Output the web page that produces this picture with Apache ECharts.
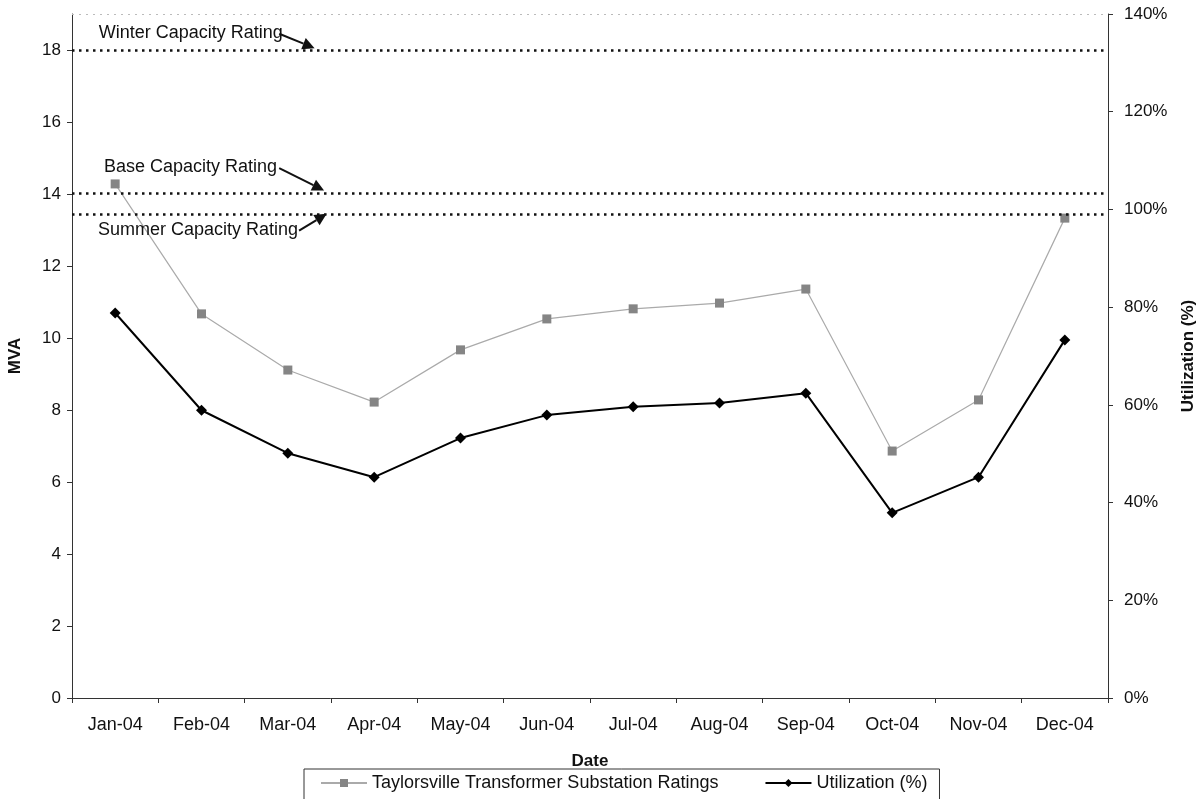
<!DOCTYPE html>
<html>
<head>
<meta charset="utf-8">
<script src="https://cdn.jsdelivr.net/npm/echarts@6/dist/echarts.min.js"></script>
<style>
html,body{margin:0;padding:0;background:#fff;}
#chart{width:1199px;height:799px;}
</style>
</head>
<body>
<div id="chart"></div>
<script>
const categories = ['Jan-04','Feb-04','Mar-04','Apr-04','May-04','Jun-04','Jul-04','Aug-04','Sep-04','Oct-04','Nov-04','Dec-04'];
const ratingsMVA = [14.28, 10.67, 9.11, 8.22, 9.67, 10.53, 10.81, 10.97, 11.36, 6.86, 8.28, 13.33];
const utilizationPct = [78.8, 58.9, 50.1, 45.2, 53.2, 57.9, 59.6, 60.4, 62.4, 37.9, 45.2, 73.3];
const capacityNames = ['Winter Capacity Rating', 'Base Capacity Rating', 'Summer Capacity Rating'];
const capacityValues = [18, 14.02, 13.45];
const leftTicks = {min: 0, max: 19, interval: 2};
const rightTicks = {min: 0, max: 140, interval: 20};

const FONT = 'Liberation Sans, Arial, sans-serif';
const chart = echarts.init(document.getElementById('chart'));

const option = {
  backgroundColor: '#fff',
  animation: false,
  textStyle: {fontFamily: FONT, color: '#111'},
  grid: {left: 72, right: 91, top: 14, bottom: 101, containLabel: false, outerBoundsMode: 'none'},
  legend: {
    top: 769, left: 304,
    padding: [5, 12, 10, 16],
    borderColor: '#333', borderWidth: 1,
    itemGap: 46, itemWidth: 46, itemHeight: 10,
    textStyle: {fontFamily: FONT, fontSize: 18, color: '#111'},
    data: ['Taylorsville Transformer Substation Ratings', 'Utilization (%)']
  },
  xAxis: {
    type: 'category', data: categories, boundaryGap: true,
    name: 'Date', nameLocation: 'middle', nameGap: 55,
    nameTextStyle: {fontFamily: FONT, fontSize: 17, fontWeight: 'bold', color: '#111'},
    axisLine: {lineStyle: {color: '#333', width: 1}},
    axisTick: {show: true, length: 5, lineStyle: {color: '#333'}},
    axisLabel: {fontFamily: FONT, fontSize: 18, color: '#111', margin: 18},
    splitLine: {show: false}
  },
  yAxis: [
    {
      type: 'value', min: leftTicks.min, max: leftTicks.max, interval: leftTicks.interval,
      name: 'MVA', nameLocation: 'middle', nameGap: 48, nameRotate: 90,
      nameTextStyle: {fontFamily: FONT, fontSize: 17, fontWeight: 'bold', color: '#111'},
      axisLine: {show: true, lineStyle: {color: '#333', width: 1}},
      axisTick: {show: true, length: 5, lineStyle: {color: '#333'}},
      axisLabel: {fontFamily: FONT, fontSize: 17, color: '#111', margin: 11, showMaxLabel: false},
      splitLine: {show: false}
    },
    {
      type: 'value', position: 'right', min: rightTicks.min, max: rightTicks.max, interval: rightTicks.interval,
      name: 'Utilization (%)', nameLocation: 'middle', nameGap: 72, nameRotate: 90,
      nameTextStyle: {fontFamily: FONT, fontSize: 17, fontWeight: 'bold', color: '#111'},
      axisLine: {show: true, lineStyle: {color: '#333', width: 1}},
      axisTick: {show: true, length: 5, lineStyle: {color: '#333'}},
      axisLabel: {fontFamily: FONT, fontSize: 17, color: '#111', margin: 16, formatter: '{value}%'},
      splitLine: {show: false}
    }
  ],
  series: [
    {
      name: 'Taylorsville Transformer Substation Ratings',
      type: 'line', yAxisIndex: 0, data: ratingsMVA,
      symbol: 'rect', symbolSize: 9,
      lineStyle: {color: '#aaaaaa', width: 1.2},
      itemStyle: {color: '#858585'},
      markLine: {
        silent: true, symbol: 'none',
        label: {show: false},
        lineStyle: {color: '#111', type: [2.5, 4.5], width: 2.5},
        data: capacityValues.map(v => ({yAxis: v}))
      },
      z: 2
    },
    {
      name: 'Utilization (%)',
      type: 'line', yAxisIndex: 1, data: utilizationPct,
      symbol: 'diamond', symbolSize: 11,
      lineStyle: {color: '#000', width: 2},
      itemStyle: {color: '#000'},
      z: 3
    },
    {
      type: 'line', yAxisIndex: 0, data: [], silent: true,
      markLine: {
        silent: true, symbol: 'none', label: {show: false},
        lineStyle: {color: '#bbb', type: [2, 5], width: 1},
        data: [{yAxis: leftTicks.max}]
      }
    }
  ]
};
chart.setOption(option);

function px(catPos, val) {
  const a = chart.convertToPixel({xAxisIndex: 0, yAxisIndex: 0}, [0, val]);
  const b = chart.convertToPixel({xAxisIndex: 0, yAxisIndex: 0}, [1, val]);
  return [a[0] + (b[0] - a[0]) * catPos, a[1]];
}
const annot = [
  {text: capacityNames[0], t: [-0.19, 18.45], s: [1.9, 18.45], e: [2.31, 18.05]},
  {text: capacityNames[1], t: [-0.13, 14.72], s: [1.9, 14.72], e: [2.42, 14.1]},
  {text: capacityNames[2], t: [-0.2, 12.98], s: [2.13, 12.98], e: [2.45, 13.45]}
];
const graphics = [];
annot.forEach(a => {
  const t = px(a.t[0], a.t[1]);
  graphics.push({type: 'text', left: t[0], top: t[1] - 10, z: 10,
    style: {text: a.text, fontFamily: FONT, fontSize: 18, fill: '#111'}});
  const s = px(a.s[0], a.s[1]);
  const e = px(a.e[0], a.e[1]);
  const ang = Math.atan2(e[1] - s[1], e[0] - s[0]);
  const L = 12, W = 6;
  const bx = e[0] - L * Math.cos(ang), by = e[1] - L * Math.sin(ang);
  graphics.push({type: 'line', z: 10, shape: {x1: s[0], y1: s[1], x2: bx, y2: by},
    style: {stroke: '#111', lineWidth: 2}});
  graphics.push({type: 'polygon', z: 10, shape: {points: [
    [e[0], e[1]],
    [bx + W * Math.sin(ang), by - W * Math.cos(ang)],
    [bx - W * Math.sin(ang), by + W * Math.cos(ang)]
  ]}, style: {fill: '#111'}});
});
chart.setOption({graphic: graphics});
</script>
</body>
</html>
